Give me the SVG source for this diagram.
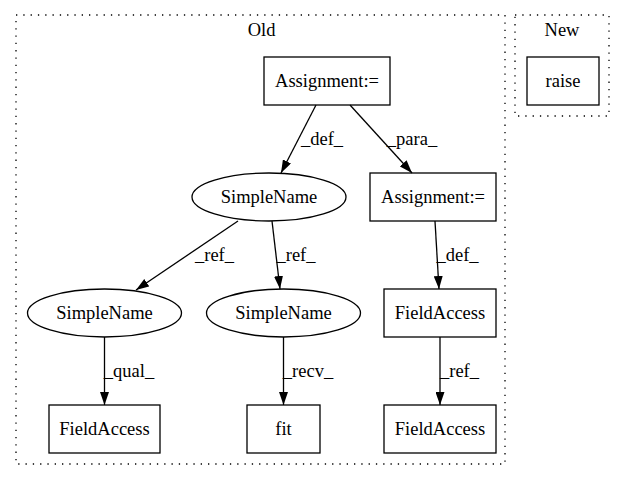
<svg xmlns="http://www.w3.org/2000/svg" width="625" height="480" viewBox="0 0 625 480">
<style>
text{font-family:"Liberation Serif","Times New Roman",serif;font-size:18.5px;fill:#000;text-anchor:middle}
.n{fill:none;stroke:#000;stroke-width:1.3}
.c{fill:none;stroke:#000;stroke-width:1.3;stroke-dasharray:1.3,6}
.e{fill:none;stroke:#000;stroke-width:1.3}
</style>
<defs>
<marker id="a" viewBox="0 0 13 9" refX="13" refY="4.5" markerWidth="13" markerHeight="9" markerUnits="userSpaceOnUse" orient="auto">
<path d="M0,0 L13,4.5 L0,9 z" fill="#000"/>
</marker>
</defs>
<rect width="625" height="480" fill="#fff"/>
<g id="cluster_old">
<rect class="c" x="16" y="15" width="489" height="449"/>
<text x="261.5" y="36">Old</text>
</g>
<g id="cluster_new">
<rect class="c" x="515" y="15" width="94" height="101"/>
<text x="562" y="36">New</text>
</g>
<g id="connectors">
<path class="e" marker-end="url(#a)" d="M316,105 L281,173"/>
<text x="322" y="145">_def_</text>
<path class="e" marker-end="url(#a)" d="M350,105 L412,173"/>
<text x="412" y="145">_para_</text>
<path class="e" marker-end="url(#a)" d="M238,221 L136,290"/>
<text x="214.5" y="261">_ref_</text>
<path class="e" marker-end="url(#a)" d="M272,221 L280,289"/>
<text x="296" y="261">_ref_</text>
<path class="e" marker-end="url(#a)" d="M435,221 L439,289"/>
<text x="457.5" y="261">_def_</text>
<path class="e" marker-end="url(#a)" d="M104.5,337 L104.5,405"/>
<text x="129" y="377">_qual_</text>
<path class="e" marker-end="url(#a)" d="M283.5,337 L283.5,405"/>
<text x="308" y="377">_recv_</text>
<path class="e" marker-end="url(#a)" d="M440,337 L440,405"/>
<text x="459.5" y="377">_ref_</text>
</g>
<g id="n_assign1">
<rect class="n" x="264" y="57" width="126" height="48"/>
<text x="327" y="87">Assignment:=</text>
</g>
<g id="n_raise">
<rect class="n" x="527" y="57" width="72" height="48"/>
<text x="563" y="87">raise</text>
</g>
<g id="n_simple1">
<ellipse class="n" cx="269" cy="197" rx="77" ry="24"/>
<text x="269" y="203">SimpleName</text>
</g>
<g id="n_assign2">
<rect class="n" x="370" y="173" width="126" height="48"/>
<text x="433" y="203">Assignment:=</text>
</g>
<g id="n_simple2">
<ellipse class="n" cx="104.5" cy="313" rx="77" ry="24"/>
<text x="104.5" y="319">SimpleName</text>
</g>
<g id="n_simple3">
<ellipse class="n" cx="283.5" cy="313" rx="77" ry="24"/>
<text x="283.5" y="319">SimpleName</text>
</g>
<g id="n_field1">
<rect class="n" x="384" y="289" width="112" height="48"/>
<text x="440" y="319">FieldAccess</text>
</g>
<g id="n_field2">
<rect class="n" x="49" y="405" width="111" height="48"/>
<text x="104.5" y="435">FieldAccess</text>
</g>
<g id="n_fit">
<rect class="n" x="247" y="405" width="73" height="48"/>
<text x="283.5" y="435">fit</text>
</g>
<g id="n_field3">
<rect class="n" x="384" y="405" width="112" height="48"/>
<text x="440" y="435">FieldAccess</text>
</g>
</svg>
